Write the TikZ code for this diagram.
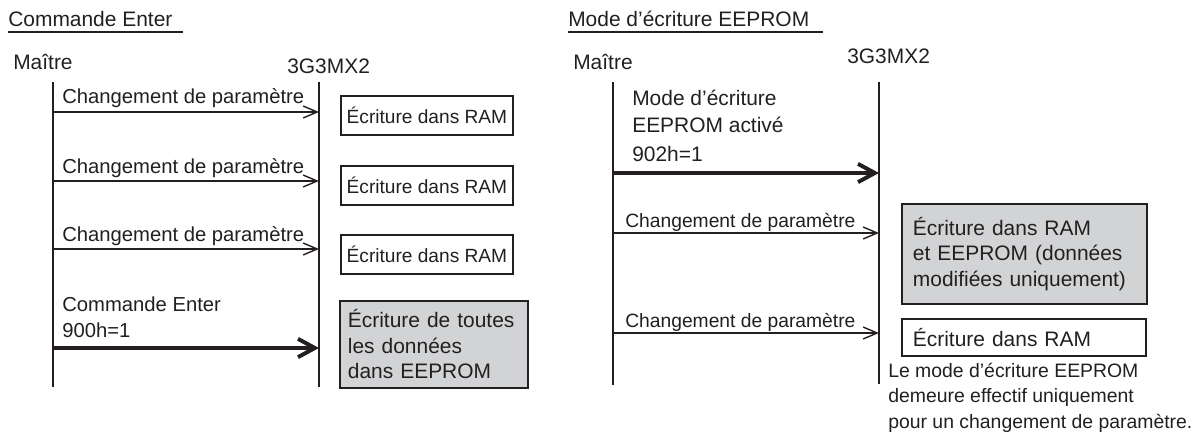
\documentclass[tikz,border=0pt]{standalone}
\usepackage{fontspec}
\setmainfont{Liberation Sans}
\usetikzlibrary{arrows.meta}

\definecolor{ink}{HTML}{231F20}
\definecolor{boxgray}{HTML}{D1D3D4}

\begin{document}
\begin{tikzpicture}[
    x=0.25mm,
    y=-0.25mm,
    every node/.style={inner sep=0pt, text=ink},
    head/.style={
        font=\fontsize{14.9}{18}\selectfont,
        anchor=base west
    },
    lbl/.style={
        font=\fontsize{14.4}{18.5}\selectfont,
        anchor=base west,
        align=left
    },
    lblr/.style={
        font=\fontsize{13.7}{18}\selectfont,
        anchor=base west,
        align=left
    },
    uline/.style={draw=ink, line width=1pt},
    lifeline/.style={draw=ink, line width=1.3pt},
    msg/.style={draw=ink, line width=1pt, -{Straight Barb[length=10pt, width=8.5pt]}},
    bigmsg/.style={draw=ink, line width=2.8pt, -{Straight Barb[length=12pt, width=13pt]}},
    ram/.style={
        rectangle,
        draw=ink,
        line width=1.3pt,
        anchor=north west,
        font=\fontsize{13.6}{18}\selectfont,
        minimum width=43mm,
        minimum height=9.75mm
    },
    eeprom/.style={
        rectangle,
        draw=ink,
        fill=boxgray,
        line width=1.3pt,
        anchor=north west,
        align=left,
        font=\fontsize{14.9}{18.1}\selectfont
    }
]
\useasboundingbox (0,0) rectangle (1199,441);

% Titles
\node[head] (tEnter) at (8,27) {Commande Enter};
\node[head] (tMode) at (568,27) {Mode d’écriture EEPROM};
\draw[uline] (tEnter.base west) ++(0,5) -- ++(175,0);
\draw[uline] (tMode.base west) ++(0,5) -- ++(255,0);

% Lifeline heads
\node[head] (mL) at (13,70) {Maître};
\node[head] (sL) at (287,74) {3G3MX2};
\node[head] (mR) at (573,70) {Maître};
\node[head] (sR) at (847,64) {3G3MX2};

% Lifelines
\coordinate (mLtop) at (53,82);   \coordinate (mLbot) at (53,387);
\coordinate (sLtop) at (319,82);  \coordinate (sLbot) at (319,387);
\coordinate (mRtop) at (613,82);  \coordinate (mRbot) at (613,385);
\coordinate (sRtop) at (879,82);  \coordinate (sRbot) at (879,384);
\draw[lifeline] (mLtop) -- (mLbot);
\draw[lifeline] (sLtop) -- (sLbot);
\draw[lifeline] (mRtop) -- (mRbot);
\draw[lifeline] (sRtop) -- (sRbot);

% Message end points, left panel
\coordinate (l1a) at (53,112);  \coordinate (l1b) at (319,112);
\coordinate (l2a) at (53,181);  \coordinate (l2b) at (319,181);
\coordinate (l3a) at (53,249);  \coordinate (l3b) at (319,249);
\coordinate (l4a) at (53,348);  \coordinate (l4b) at (319,348);

% Message end points, right panel
\coordinate (r1a) at (613,173); \coordinate (r1b) at (879,173);
\coordinate (r2a) at (613,233); \coordinate (r2b) at (879,233);
\coordinate (r3a) at (613,333); \coordinate (r3b) at (879,333);

% Messages, left panel
\draw[msg] (l1a) -- (l1b);
\draw[msg] (l2a) -- (l2b);
\draw[msg] (l3a) -- (l3b);
\draw[bigmsg] (l4a) -- (l4b);

% Messages, right panel
\draw[bigmsg] (r1a) -- (r1b);
\draw[msg] (r2a) -- (r2b);
\draw[msg] (r3a) -- (r3b);

% Message labels, left panel (base = last line)
\node[lbl] (ml1) at (62,104) {Changement de paramètre};
\node[lbl] (ml2) at (62,174) {Changement de paramètre};
\node[lbl] (ml3) at (62,242) {Changement de paramètre};
\node[lbl] (ml4) at (62,338) {Commande Enter\\900h=1};

% Message labels, right panel
\node[lbl, font=\fontsize{14.9}{19.2}\selectfont] (mr1) at (632,162)
    {Mode d’écriture\\EEPROM activé\\[2pt]902h=1};
\node[lblr] (mr2) at (625,228) {Changement de paramètre};
\node[lblr] (mr3) at (625,328) {Changement de paramètre};

% Actions, left panel
\node[ram] (bL1) at (340,95) {Écriture dans RAM};
\node[ram] (bL2) at (340,165) {Écriture dans RAM};
\node[ram] (bL3) at (340,234) {Écriture dans RAM};
\node[eeprom, text width=43mm, inner xsep=2mm, minimum height=21.75mm] (bL4) at (339,300)
    {Écriture de toutes\\les données\\dans EEPROM};

% Actions, right panel
\node[eeprom, text width=55.75mm, inner xsep=2.75mm, minimum height=25mm] (bR1) at (901,203)
    {Écriture dans RAM\\et EEPROM (données\\modifiées uniquement)};
\node[eeprom, fill=white, text width=55.5mm, inner xsep=2.75mm, minimum height=9.25mm] (bR2) at (901,318)
    {Écriture dans RAM};

% Note
\node[lblr, font=\fontsize{13.8}{17.8}\selectfont] (note) at (888,428)
    {Le mode d’écriture EEPROM\\demeure effectif uniquement\\pour un changement de paramètre.};

\end{tikzpicture}
\end{document}
